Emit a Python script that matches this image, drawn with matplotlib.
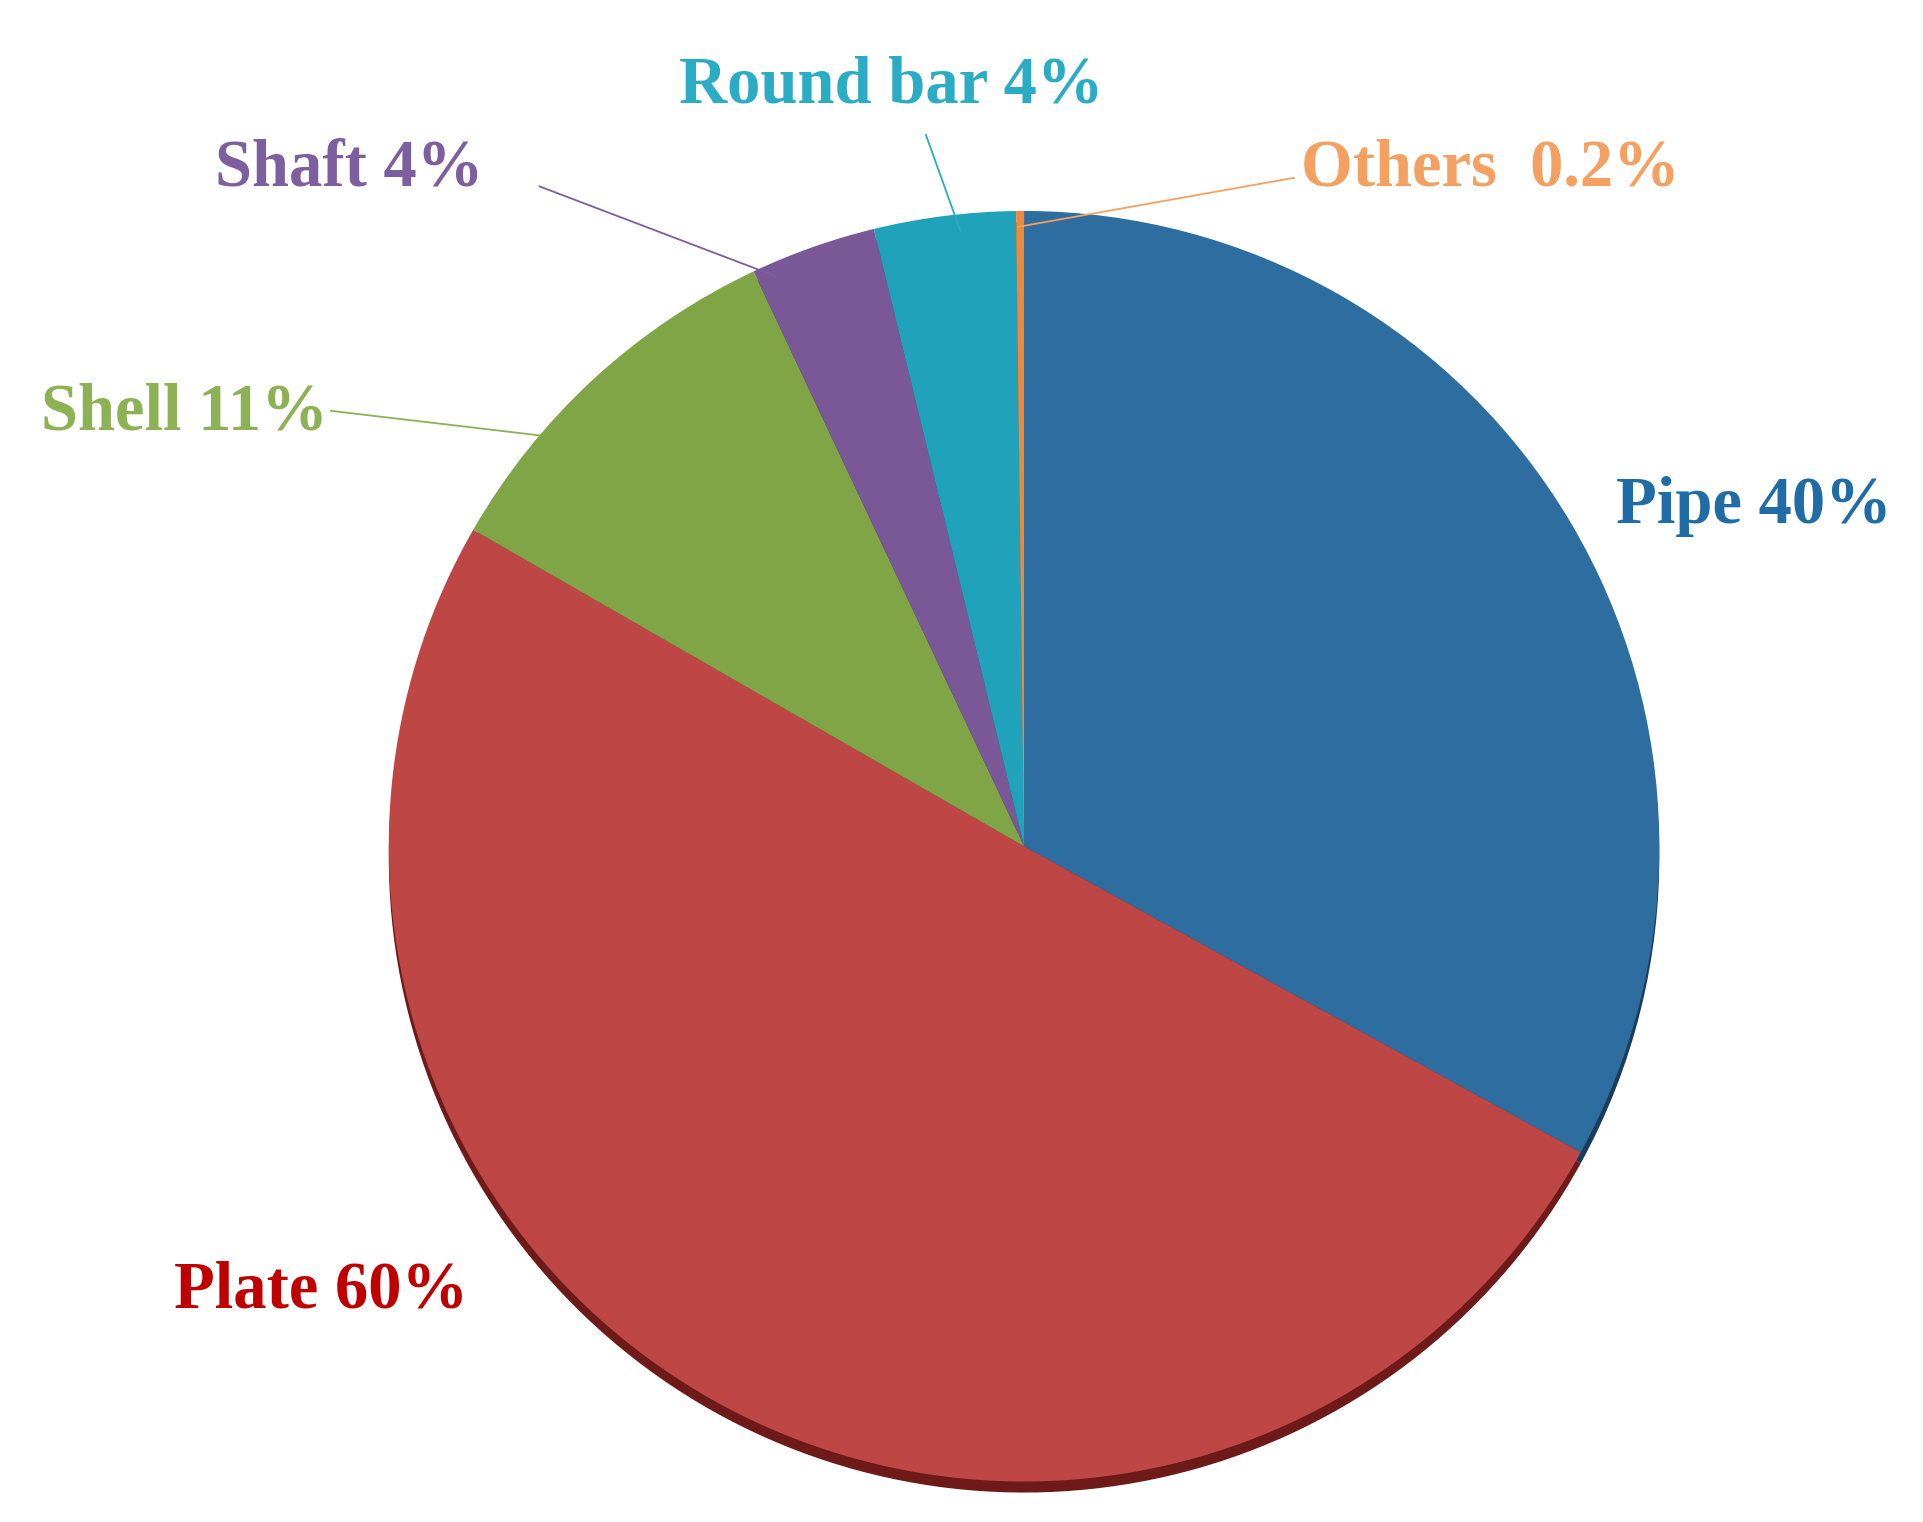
import matplotlib.pyplot as plt

# slice values (angles), labels as printed
names = ['Pipe', 'Plate', 'Shell', 'Shaft', 'Round bar', 'Others']
values = [33.0, 50.3, 9.7, 3.2, 3.6, 0.2]
label_text = ['Pipe 40%', 'Plate 60%', 'Shell 11%', 'Shaft 4%', 'Round bar 4%', 'Others  0.2%']
wedge_colors = ['#2E6DA0', '#BE4745', '#80A547', '#7A5897', '#1FA2BA', '#F0883A']
text_colors = ['#1F6CA6', '#C00000', '#8DB255', '#7D5E9E', '#2AACC4', '#F4A060']

W, H = 1568, 1241
fig = plt.figure(figsize=(19.23, 15.22), dpi=100)
ax = fig.add_axes([0, 0, 1, 1])

cx, cy, r = 835, H - 690, 518

# shadow
shadow_cols = ['#1a3d5c', '#6e1a18', '#4a5e28', '#443255', '#10606e', '#8a4c1e']
ax.pie(values, colors=shadow_cols, startangle=90, counterclock=False,
       center=(cx, cy - 9), radius=r, frame=True)
ax.pie(values, colors=wedge_colors, startangle=90, counterclock=False,
       center=(cx, cy), radius=r, frame=True)
ax.set_xlim(0, W)
ax.set_ylim(0, H)
ax.set_aspect('equal')
ax.axis('off')

pos = [(1430, 413), (262, 1053), (150, 337), (285, 138), (727, 70), (1215, 138)]
for t, c, (x, y) in zip(label_text, text_colors, pos):
    ax.text(x, H - y, t, color=c, fontsize=48, fontweight='bold',
            family='Liberation Serif', ha='center', va='center')

leaders = {2: [(270, 335), (440, 355)], 3: [(440, 152), (632, 225)],
           4: [(755, 110), (783, 188)], 5: [(1055, 145), (830, 185)]}
for i, ((x0, y0), (x1, y1)) in leaders.items():
    ax.plot([x0, x1], [H - y0, H - y1], color=text_colors[i], lw=1.3)

fig.savefig('out.png', dpi=100, facecolor='white')
